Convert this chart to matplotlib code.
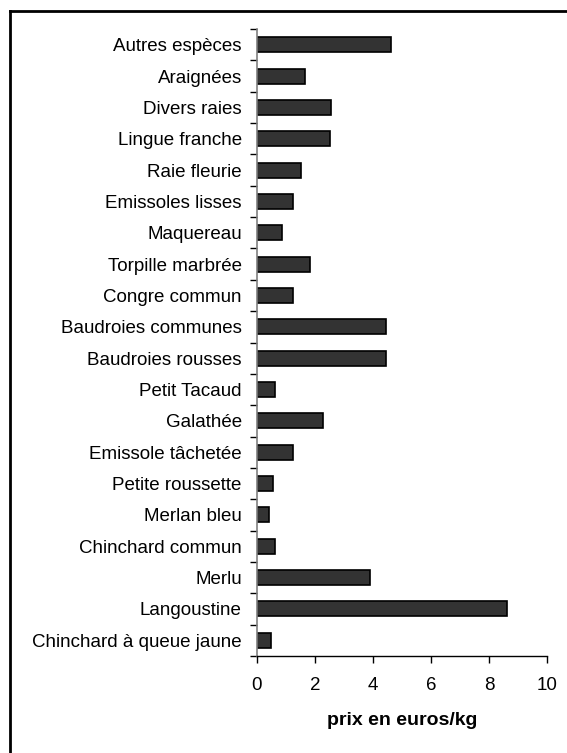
import numpy as np
import matplotlib
matplotlib.use('Agg')
import matplotlib.pyplot as plt
from matplotlib.lines import Line2D

plt.rcParams['font.family'] = ['Liberation Sans', 'DejaVu Sans']

# bottom to top
especes = ['Chinchard à queue jaune', 'Langoustine', 'Merlu', 'Chinchard commun',
           'Merlan bleu', 'Petite roussette', 'Emissole tâchetée', 'Galathée',
           'Petit Tacaud', 'Baudroies rousses', 'Baudroies communes', 'Congre commun',
           'Torpille marbrée', 'Maquereau', 'Emissoles lisses', 'Raie fleurie',
           'Lingue franche', 'Divers raies', 'Araignées', 'Autres espèces']
prix = [0.49, 8.63, 3.9, 0.63, 0.43, 0.55, 1.23, 2.26, 0.62, 4.45, 4.45, 1.24,
        1.84, 0.86, 1.23, 1.53, 2.5, 2.56, 1.65, 4.63]

fig = plt.figure(figsize=(5.67, 7.53), dpi=100)
ax = fig.add_axes([257/567, 1 - 656/753, 290/567, 627/753])

y = np.arange(len(especes))
ax.barh(y, prix, height=0.48, color='#333333', edgecolor='black', linewidth=1.2)

ax.set_xlim(0, 10)
ax.set_ylim(-0.5, len(especes) - 0.5)
ax.set_xticks([0, 2, 4, 6, 8, 10])
ax.tick_params(axis='x', labelsize=13.5, length=5, width=1, direction='out', pad=10)

# category labels centred, tick marks between categories
ax.set_yticks(y)
ax.set_yticklabels(especes, fontsize=13.5)
ax.tick_params(axis='y', which='major', length=0, pad=11)
ax.set_yticks(np.arange(-0.5, len(especes)), minor=True)
ax.tick_params(axis='y', which='minor', length=5, width=1, direction='out')

ax.spines['top'].set_visible(False)
ax.spines['right'].set_visible(False)
ax.spines['left'].set_color('#808080')
ax.spines['left'].set_linewidth(1.2)
ax.spines['bottom'].set_linewidth(1)

ax.set_xlabel('prix en euros/kg', fontsize=14, fontweight='bold', labelpad=13)

# outer frame (only top and left visible)
fig.add_artist(Line2D([10/567, 10/567], [0, 1 - 11/753], color='black', lw=2, transform=fig.transFigure))
fig.add_artist(Line2D([10/567, 1], [1 - 11/753, 1 - 11/753], color='black', lw=2, transform=fig.transFigure))

fig.savefig('out.png', dpi=100)
